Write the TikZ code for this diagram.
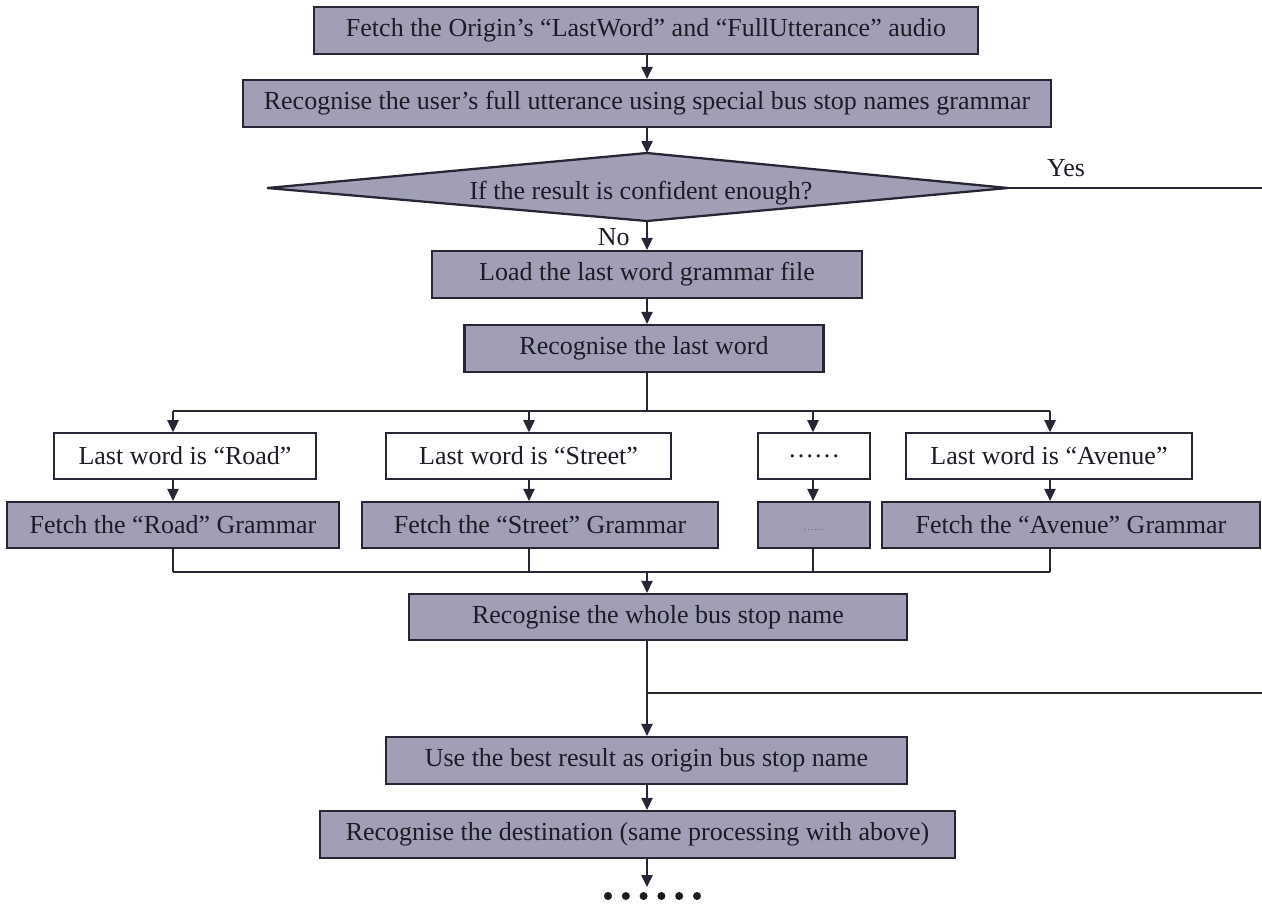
\documentclass[tikz,border=0pt]{standalone}
\usepackage{fontspec}
\setmainfont{Liberation Serif}
\usetikzlibrary{arrows.meta,calc}

\definecolor{boxfill}{RGB}{160,159,182}
\definecolor{edge}{RGB}{38,38,52}
\definecolor{ink}{RGB}{28,28,38}

\tikzset{
  wh/.style 2 args={minimum width=#1*0.75pt, minimum height=#2*0.75pt},
  txt/.style={font=\fontsize{19.5}{23}\selectfont, text=ink, inner sep=0pt},
  gbox/.style={txt, draw=edge, fill=boxfill, line width=1.7pt, rectangle},
  wbox/.style={txt, draw=edge, fill=white, line width=1.2pt, rectangle},
  link/.style={draw=edge, line width=1.1pt},
  arr/.style={link, -{Triangle[length=9pt,width=8.5pt]}},
}

\begin{document}
\begin{tikzpicture}[x=0.75pt,y=-0.75pt]
\useasboundingbox (0,0) rectangle (1262,904);

% main column
\node[gbox, wh={664}{47}] (fetch) at (646,30.5)
  {Fetch the Origin’s “LastWord” and “FullUtterance” audio};
\node[gbox, wh={808}{47}] (full) at (647,103.5)
  {Recognise the user’s full utterance using special bus stop names grammar};

% decision diamond
\coordinate (dL) at (267,188);
\coordinate (dT) at (647,153);
\coordinate (dR) at (1008,188);
\coordinate (dB) at (647,221);
\filldraw[fill=boxfill, draw=edge, line width=1.7pt, line join=miter]
  (dL) -- (dT) -- (dR) -- (dB) -- cycle;
\node[txt] (cond) at (641,193) {If the result is confident enough?};

\node[gbox, wh={430}{47}] (load) at (647,274.5) {Load the last word grammar file};
\node[gbox, wh={359}{47}] (last) at (644,348.5) {Recognise the last word};

% branches
\node[wbox, wh={262}{46}] (road)   at (185,456)    {Last word is “Road”};
\node[wbox, wh={285}{46}] (street) at (528.5,456)  {Last word is “Street”};
\node[wbox, wh={112}{46}] (more)   at (814,456)    {……};
\node[wbox, wh={286}{46}] (avenue) at (1049,456)   {Last word is “Avenue”};

\node[gbox, wh={332}{46}] (roadG)   at (173,525)   {Fetch the “Road” Grammar};
\node[gbox, wh={356}{46}] (streetG) at (540,525)   {Fetch the “Street” Grammar};
\node[gbox, wh={112}{46}] (moreG)   at (814,525)   {\raisebox{-1ex}{\fontsize{8}{10}\selectfont\color{edge!70}……}};
\node[gbox, wh={378}{46}] (avenueG) at (1071,525)  {Fetch the “Avenue” Grammar};

\node[gbox, wh={498}{46}] (whole) at (658,617)   {Recognise the whole bus stop name};
\node[gbox, wh={521}{47}] (best)  at (646.5,760.5) {Use the best result as origin bus stop name};
\node[gbox, wh={635}{47}] (dest)  at (637.5,834.5)
  {Recognise the destination (same processing with above)};

% the six closing dots
\foreach \k in {0,...,5}
  \fill[ink] ({608+17.8*\k},896) circle (4);
\coordinate (dots) at (647,887);

% guide coordinates
\coordinate (spine) at (647,0);
\coordinate (split) at (647,411);
\coordinate (join)  at (647,572);
\coordinate (bA) at (173,411);
\coordinate (bB) at (529,411);
\coordinate (bC) at (813,411);
\coordinate (bD) at (1050,411);
\coordinate (yesEnd) at (1262,188);
\coordinate (tap) at (647,693);
\coordinate (tapEnd) at (1262,693);

% main flow
\draw[arr] (spine |- fetch.south) -- (spine |- full.north);
\draw[arr] (spine |- full.south) -- (dT);
\draw[arr] (dB) -- (spine |- load.north);
\node[txt, anchor=east] (no) at (630,237) {No};
\draw[arr] (spine |- load.south) -- (spine |- last.north);

% yes exit
\draw[link] (dR) -- (yesEnd);
\node[txt] (yes) at (1066,168) {Yes};

% fan out
\draw[link] (spine |- last.south) -- (split);
\draw[link] (bA) -- (bD);
\foreach \b/\w/\g in {bA/road/roadG, bB/street/streetG, bC/more/moreG, bD/avenue/avenueG}{
  \draw[arr] (\b) -- (\b |- \w.north);
  \draw[arr] (\b |- \w.south) -- (\b |- \g.north);
  \draw[link] (\b |- \g.south) -- (\b |- join);
}
\draw[link] (bA |- join) -- (bD |- join);
\draw[arr] (join) -- (spine |- whole.north);

% result
\draw[arr] (spine |- whole.south) -- (spine |- best.north);
\draw[link] (tap) -- (tapEnd);
\draw[arr] (spine |- best.south) -- (spine |- dest.north);
\draw[arr] (spine |- dest.south) -- (dots);
\end{tikzpicture}
\end{document}
